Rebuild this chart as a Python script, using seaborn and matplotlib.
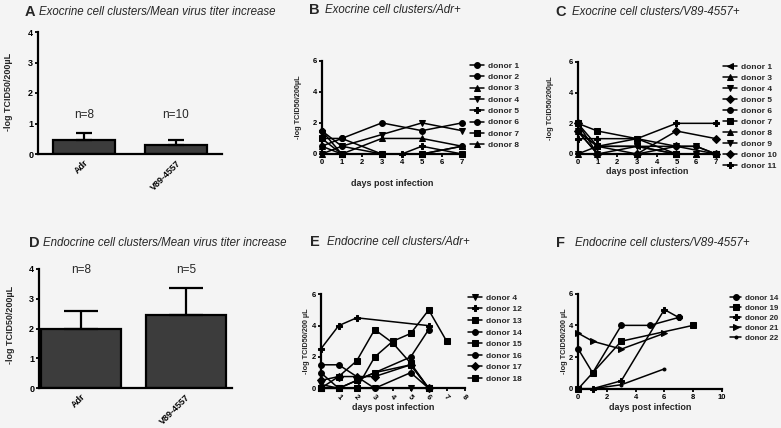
import numpy as np
import pandas as pd
import matplotlib
matplotlib.use("Agg")
import matplotlib.pyplot as plt
import seaborn as sns

# ---------------- data ----------------
bar_categories = ["Adr", "V89-4557"]
exo_means = [0.45, 0.30]
exo_sem = [0.25, 0.17]
exo_n = ["n=8", "n=10"]
endo_means = [2.0, 2.45]
endo_sem = [0.58, 0.90]
endo_n = ["n=8", "n=5"]

nan = np.nan
b_days = [0, 1, 3, 4, 5, 7]
b_series = {
    "donor 1": [1.5, 0.5, 0.0, nan, 0.0, 0.5],
    "donor 2": [1.0, 1.0, 0.0, nan, 0.0, 0.0],
    "donor 3": [0.0, 0.0, 1.0, nan, 1.0, 0.5],
    "donor 4": [0.0, 0.5, 1.25, nan, 2.0, 1.5],
    "donor 5": [1.5, 0.0, 0.0, 0.0, 0.5, 0.0],
    "donor 6": [0.5, 1.0, 2.0, nan, 1.5, 2.0],
    "donor 7": [1.0, 0.0, 0.0, nan, 0.0, 0.0],
    "donor 8": [0.5, 0.0, 0.0, nan, 0.0, 0.5],
}
b_markers = ["o", "o", "^", "v", "P", "o", "s", "^"]

c_days = [0, 1, 3, 5, 6, 7]
c_series = {
    "donor 1": [2.0, 0.5, 0.5, 0.0, nan, 0.0],
    "donor 3": [1.5, 0.0, 0.0, 0.0, 0.0, 0.0],
    "donor 4": [1.5, 0.5, 0.5, 0.5, 0.5, 0.0],
    "donor 5": [2.0, 0.0, 0.0, 0.5, nan, 0.0],
    "donor 6": [1.5, 0.5, 1.0, 0.5, 0.5, 0.0],
    "donor 7": [2.0, 1.5, 1.0, 0.0, nan, 0.0],
    "donor 8": [0.0, 0.5, 0.0, 0.0, 0.0, 0.0],
    "donor 9": [0.0, 0.0, 0.5, 0.0, 0.0, 0.0],
    "donor 10": [1.5, 0.0, 0.0, 1.5, nan, 1.0],
    "donor 11": [1.0, 1.0, 1.0, 2.0, nan, 2.0],
}
c_markers = ["<", "^", "v", "D", "o", "s", "^", "v", "D", "P"]

e_days = [0, 1, 2, 3, 4, 5, 6, 7]
e_series = {
    "donor 4": [0.25, 0.0, 0.0, 0.0, nan, 0.0, 0.0, nan],
    "donor 12": [2.5, 4.0, 4.5, nan, nan, nan, 4.0, nan],
    "donor 13": [0.0, 0.75, 1.75, 3.75, 2.9, 1.6, 0.0, nan],
    "donor 14": [1.0, 0.0, nan, 1.0, nan, 2.0, 3.75, nan],
    "donor 15": [0.0, 0.0, 0.0, 2.0, 3.0, 3.5, 5.0, 3.0],
    "donor 16": [1.5, 1.5, nan, 0.0, nan, 1.0, 0.0, nan],
    "donor 17": [0.5, 0.75, 0.75, 0.75, nan, 1.5, 0.0, nan],
    "donor 18": [0.0, 0.0, 0.5, 1.0, nan, 1.5, 0.0, nan],
}
e_markers = ["v", "P", "s", "o", "s", "o", "D", "s"]

f_days = [0, 1, 3, 5, 6, 7, 8]
f_series = {
    "donor 14": [2.5, 1.0, 4.0, 4.0, nan, 4.5, nan],
    "donor 19": [0.0, 1.0, 3.0, nan, nan, nan, 4.0],
    "donor 20": [0.0, 0.0, 0.5, nan, 5.0, 4.5, nan],
    "donor 21": [3.5, 3.0, 2.5, nan, 3.5, nan, nan],
    "donor 22": [0.0, 0.0, 0.25, nan, 1.25, nan, nan],
}
f_markers = ["o", "s", "P", ">", "."]

# ---------------- style ----------------
sns.set_style("white")
plt.rcParams["font.family"] = ["Liberation Sans", "DejaVu Sans"]
plt.rcParams["font.weight"] = "bold"
BG = "#f4f4f4"
W, H = 781, 428
fig = plt.figure(figsize=(W / 100, H / 100), dpi=100, facecolor=BG)


def fx(p):
    return p / W


def fy(p):
    return 1 - p / H


def add_ax(x0, x1, y0, y1, tick_size):
    ax = fig.add_axes([fx(x0), fy(y0), fx(x1) - fx(x0), fy(y1) - fy(y0)])
    ax.set_facecolor("none")
    for s in ["top", "right"]:
        ax.spines[s].set_visible(False)
    for s in ["left", "bottom"]:
        ax.spines[s].set_linewidth(1.6)
        ax.spines[s].set_color("black")
    ax.tick_params(width=1.3, length=2.5, labelsize=tick_size, pad=1,
                   colors="black", bottom=True, left=True)
    return ax


def title(xl, xt, y, letter, text):
    fig.text(fx(xl), fy(y), letter, fontsize=10.5, fontweight="bold",
             ha="left", va="center")
    fig.text(fx(xt), fy(y), text, fontsize=8.3, fontstyle="italic",
             fontweight="normal", ha="left", va="center")


def bar_panel(ax, means, sems, ns, n_y, capsize, width, xlim):
    df = pd.DataFrame({"group": bar_categories, "titer": means})
    sns.barplot(data=df, x="group", y="titer", color="#3c3c3c",
                edgecolor="black", linewidth=1.6, width=width, ax=ax,
                errorbar=None, saturation=1)
    ax.errorbar(np.arange(len(means)), means,
                yerr=[np.zeros(len(sems)), sems], fmt="none",
                ecolor="black", elinewidth=1.6, capsize=capsize,
                capthick=1.6, zorder=5)
    ax.set_ylim(0, 4)
    ax.set_yticks([0, 1, 2, 3, 4])
    ax.set_xlim(*xlim)
    for i, t in enumerate(ns):
        ax.text(i, n_y, t, ha="center", va="center", fontsize=8.5,
                fontweight="normal")
    ax.set_xticks(range(len(bar_categories)))
    ax.set_xticklabels(bar_categories, rotation=45, ha="right",
                       rotation_mode="anchor")
    ax.tick_params(axis="x", length=0, pad=3)
    ax.set_xlabel("")
    ax.set_ylabel("")


def line_panel(ax, days, series, markers, legend_xy, spacing, fsize=6,
               hlen=1.7):
    order = list(series.keys())
    rows = []
    for name in order:
        for d, v in zip(days, series[name]):
            if not np.isnan(v):
                rows.append((name, d, v))
    df = pd.DataFrame(rows, columns=["donor", "day", "titer"])
    sns.lineplot(data=df, x="day", y="titer", hue="donor", style="donor",
                 hue_order=order, style_order=order,
                 markers=dict(zip(order, markers)), dashes=False,
                 palette={n: "black" for n in order}, ax=ax,
                 estimator=None, errorbar=None, linewidth=1.1,
                 markersize=4.2, markeredgecolor="black", clip_on=False,
                 legend="full")
    leg = ax.get_legend()
    handles = leg.legend_handles
    labels = [t.get_text() for t in leg.get_texts()]
    leg.remove()
    ax.legend(handles, labels, loc="upper left",
              bbox_to_anchor=(fx(legend_xy[0]), fy(legend_xy[1])),
              bbox_transform=fig.transFigure, frameon=False, fontsize=fsize,
              handlelength=hlen, handletextpad=0.5, labelspacing=spacing,
              borderpad=0, borderaxespad=0)
    ax.set_xlabel("")
    ax.set_ylabel("")
    ax.set_ylim(0, 6)
    ax.set_yticks([0, 2, 4, 6])


# ---------------- panel A ----------------
axA = add_ax(38, 222, 154, 32, 6.5)
bar_panel(axA, exo_means, exo_sem, exo_n, 1.28, 5.5, 0.67, (-0.5, 1.5))
title(25, 39, 12, "A", "Exocrine cell clusters/Mean virus titer increase")
fig.text(fx(9), fy(92), "-log TCID50/200µL", rotation=90, fontsize=6.5,
         ha="center", va="center")

# ---------------- panel D ----------------
axD = add_ax(39, 232, 388, 269, 6.5)
bar_panel(axD, endo_means, endo_sem, endo_n, 3.95, 12.5, 0.76, (-0.4, 1.44))
title(29, 43, 243, "D", "Endocrine cell clusters/Mean virus titer increase")
fig.text(fx(11), fy(325), "-log TCID50/200µL", rotation=90, fontsize=6.5,
         ha="center", va="center")

# ---------------- panel B ----------------
axB = add_ax(321.7, 462, 154, 60.7, 5.5)
line_panel(axB, b_days, b_series, b_markers, (470, 62), 0.42)
axB.set_xlim(0, 7)
axB.set_xticks(range(8))
title(309, 325, 10, "B", "Exocrine cell clusters/Adr+")
fig.text(fx(299), fy(107), "-log TCID50/200µL", rotation=90, fontsize=5.3,
         ha="center", va="center")
fig.text(fx(392), fy(183), "days post infection", fontsize=6.5,
         ha="center", va="center")

# ---------------- panel C ----------------
axC = add_ax(577.7, 716, 154, 62, 5.5)
line_panel(axC, c_days, c_series, c_markers, (723, 63), 0.38)
axC.set_xlim(0, 7)
axC.set_xticks(range(8))
title(555, 572, 12, "C", "Exocrine cell clusters/V89-4557+")
fig.text(fx(551), fy(108), "-log TCID50/200µL", rotation=90, fontsize=5.3,
         ha="center", va="center")
fig.text(fx(647), fy(172), "days post infection", fontsize=6.5,
         ha="center", va="center")

# ---------------- panel E ----------------
axE = add_ax(320.7, 464.7, 388.3, 294.3, 5.5)
line_panel(axE, e_days, e_series, e_markers, (468, 294), 0.45)
axE.set_xlim(0, 8)
axE.set_xticks(range(1, 9))
axE.set_xticklabels([str(i) for i in range(1, 9)], rotation=-45)
title(310, 327, 242, "E", "Endocrine cell clusters/Adr+")
fig.text(fx(307), fy(341), "-log TCID50/200 µL", rotation=90, fontsize=5.3,
         ha="center", va="center")
fig.text(fx(393), fy(407), "days post infection", fontsize=6.5,
         ha="center", va="center")

# ---------------- panel F ----------------
axF = add_ax(578.3, 721.7, 388.7, 293.7, 5.5)
line_panel(axF, f_days, f_series, f_markers, (730, 294), 0.32, fsize=5.7,
           hlen=1.4)
axF.set_xlim(0, 10)
axF.set_xticks([0, 2, 4, 6, 8, 10])
title(556, 575, 243, "F", "Endocrine cell clusters/V89-4557+")
fig.text(fx(565), fy(341), "-log TCID50/200 µL", rotation=90, fontsize=5.3,
         ha="center", va="center")
fig.text(fx(650), fy(407), "days post infection", fontsize=6.5,
         ha="center", va="center")

fig.savefig("out.png", dpi=100, facecolor=BG)
